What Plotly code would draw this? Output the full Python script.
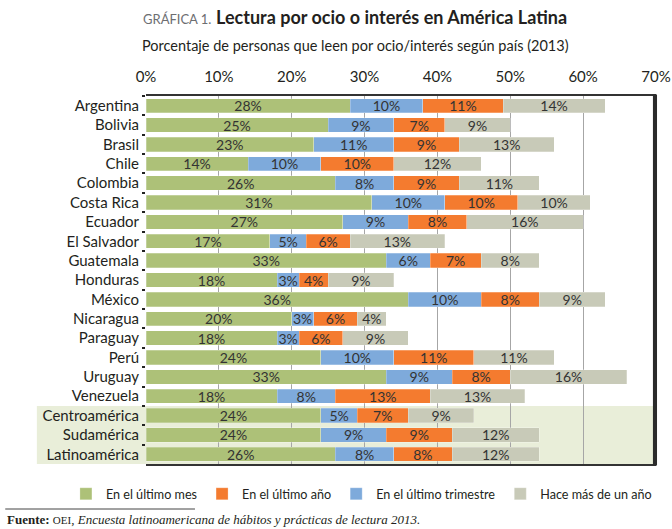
import plotly.graph_objects as go

countries = ["Argentina", "Bolivia", "Brasil", "Chile", "Colombia", "Costa Rica", "Ecuador",
             "El Salvador", "Guatemala", "Honduras", "México", "Nicaragua", "Paraguay", "Perú",
             "Uruguay", "Venezuela", "Centroamérica", "Sudamérica", "Latinoamérica"]
ultimo_mes = [28, 25, 23, 14, 26, 31, 27, 17, 33, 18, 36, 20, 18, 24, 33, 18, 24, 24, 26]
ultimo_trimestre = [10, 9, 11, 10, 8, 10, 9, 5, 6, 3, 10, 3, 3, 10, 9, 8, 5, 9, 8]
ultimo_anio = [11, 7, 9, 10, 9, 10, 8, 6, 7, 4, 8, 6, 6, 11, 8, 13, 7, 9, 8]
mas_de_un_anio = [14, 9, 13, 12, 11, 10, 16, 13, 8, 9, 9, 4, 9, 11, 16, 13, 9, 12, 12]
x_ticks = [0, 10, 20, 30, 40, 50, 60, 70]
x_tick_labels = [f"{v}%" for v in x_ticks]
regions = ["Centroamérica", "Sudamérica", "Latinoamérica"]

FONT = "Lato"
series = [
    ("En el último mes", ultimo_mes, "#adc178", 1),
    ("En el último trimestre", ultimo_trimestre, "#7eaadb", 3),
    ("En el último año", ultimo_anio, "#f47b2f", 2),
    ("Hace más de un año", mas_de_un_anio, "#c8cab8", 4),
]

fig = go.Figure()
for name, vals, color, rank in series:
    fig.add_trace(go.Bar(
        y=countries, x=vals, name=name, orientation="h",
        marker=dict(color=color, line=dict(color="rgba(255,255,255,0.5)", width=0.5)),
        text=[f"{v}%" for v in vals], textposition="inside", insidetextanchor="middle",
        constraintext="none", textangle=0,
        insidetextfont=dict(family=FONT, size=14, color="#333333"),
        legendrank=rank, width=0.74,
    ))

# highlight band for regional aggregates
idx0 = countries.index(regions[0])
idx1 = countries.index(regions[-1])
fig.add_shape(type="rect", xref="paper", yref="y", x0=-0.214, x1=1,
              y0=idx0 - 0.5, y1=idx1 + 0.5, fillcolor="#e9eed9", line_width=0, layer="below")
# right border of the plot frame
fig.add_shape(type="rect", xref="paper", yref="paper", x0=0.994, x1=1.002, y0=-0.004, y1=1.004,
              fillcolor="#2b2b2b", line_width=0, layer="above")
# source separator line
fig.add_shape(type="line", xref="paper", yref="paper", x0=-0.276, x1=0.096, y0=-0.1223, y1=-0.1223,
              line=dict(color="#444444", width=1))

fig.add_annotation(xref="paper", yref="paper", x=0.409, y=1.215, xanchor="center", yanchor="middle",
                   showarrow=False,
                   text="<span style='font-size:13px;color:#6d6e71'>GRÁFICA 1.</span> "
                        "<b>Lectura por ocio o interés en América Latina</b>",
                   font=dict(family=FONT, size=18, color="#231f20"))
fig.add_annotation(xref="paper", yref="paper", x=0.41, y=1.138, xanchor="center", yanchor="middle",
                   showarrow=False,
                   text="Porcentaje de personas que leen por ocio/interés según país (2013)",
                   font=dict(family=FONT, size=14.5, color="#231f20"))
fig.add_annotation(xref="paper", yref="paper", x=-0.276, y=-0.1496, xanchor="left", yanchor="middle",
                   showarrow=False,
                   text="<b>Fuente:</b> <span style='font-size:11px'>OEI</span>, "
                        "<i>Encuesta latinoamericana de hábitos y prácticas de lectura 2013.</i>",
                   font=dict(family="Liberation Serif", size=13, color="#231f20"))

fig.update_layout(
    width=672, height=529, barmode="stack",
    margin=dict(l=146, r=16, t=96, b=65, autoexpand=False),
    plot_bgcolor="white", paper_bgcolor="white",
    font=dict(family=FONT, color="#231f20"),
    bargap=0.26,
    showlegend=True,
    legend=dict(orientation="h", x=-0.157, y=-0.041, xanchor="left", yanchor="top",
                font=dict(family=FONT, size=12.6, color="#231f20"),
                traceorder="normal", itemwidth=30, bgcolor="rgba(0,0,0,0)"),
    xaxis=dict(side="top", range=[0, 70], tickvals=x_ticks, ticktext=x_tick_labels,
               showgrid=True, gridcolor="#a6a6a6", gridwidth=1,
               showline=True, mirror=True, linecolor="#333333", linewidth=2,
               ticks="", tickfont=dict(family=FONT, size=15, color="#231f20"),
               ticklabelstandoff=6, zeroline=False, fixedrange=True),
    yaxis=dict(autorange="reversed", categoryorder="array", categoryarray=countries,
               showgrid=False, showline=False, ticks="outside", tickson="boundaries",
               ticklen=3, tickcolor="#222222", tickwidth=2,
               tickfont=dict(family=FONT, size=15, color="#231f20"),
               ticklabelstandoff=6, fixedrange=True),
)

fig.write_html("out.html", config={"displayModeBar": False},
               post_script="document.body.style.margin='0';")
